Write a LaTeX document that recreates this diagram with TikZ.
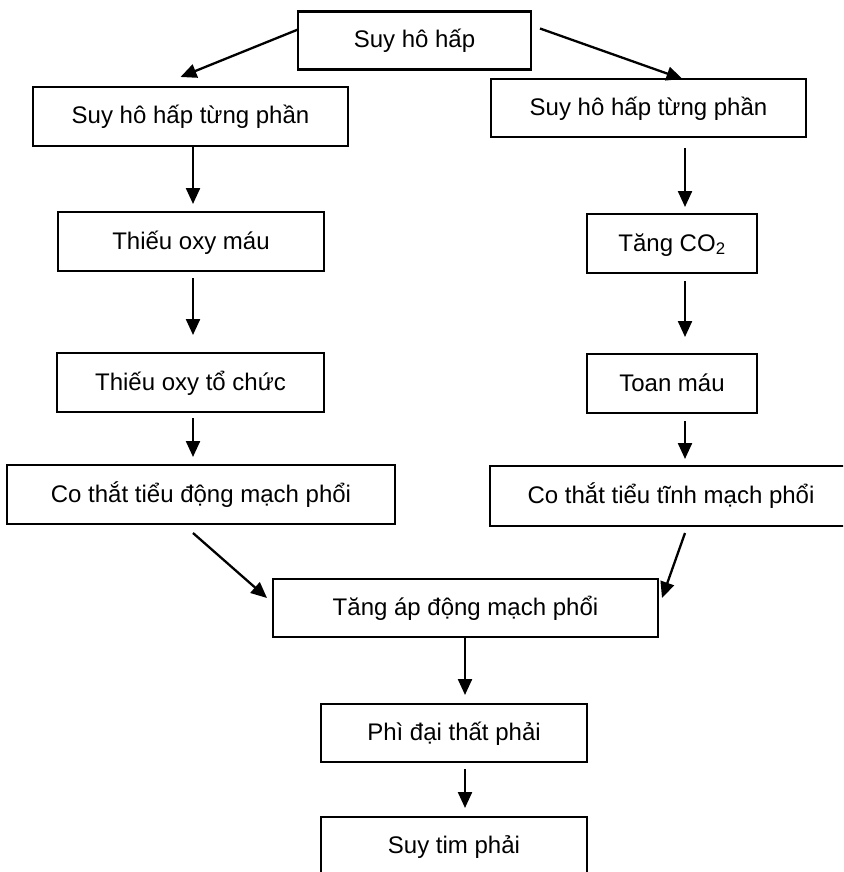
\documentclass[tikz,border=0pt]{standalone}
\usepackage{fontspec}
\setmainfont{Liberation Sans}
\usetikzlibrary{arrows.meta}

\begin{document}
\begin{tikzpicture}[x=1pt,y=-1pt,font=\fontsize{24}{28}\selectfont,
  box/.style={draw,line width=2.8pt,inner sep=0pt,outer sep=0pt,
    text height=20pt,text depth=5pt,minimum height=59pt},
  arr/.style={-{Triangle[length=16pt,width=14pt]},line width=2.3pt}]
  \useasboundingbox (0,0) rectangle (843,872);
  \clip (0,0) rectangle (843,872);
  % nut goc
  \node[box,minimum width=233pt,minimum height=58pt] (hh) at (414.5,40.5) {Suy hô hấp};
  % nhanh trai
  \node[box,minimum width=315pt] (l1) at (190.5,116.5) {Suy hô hấp từng phần};
  \node[box,minimum width=266pt] (l2) at (191,241.5) {Thiếu oxy máu};
  \node[box,minimum width=267pt] (l3) at (190.5,382.5) {Thiếu oxy tổ chức};
  \node[box,minimum width=388pt] (l4) at (201,494.5) {Co thắt tiểu động mạch phổi};
  % nhanh phai
  \node[box,minimum width=315pt,minimum height=58pt] (r1) at (648.5,108) {Suy hô hấp từng phần};
  \node[box,minimum width=170pt] (r2) at (672,243.5) {Tăng CO\textsubscript{2}};
  \node[box,minimum width=170pt] (r3) at (672,383.5) {Toan máu};
  \node[box,minimum width=362pt,minimum height=60pt] (r4) at (671,496) {Co thắt tiểu tĩnh mạch phổi};
  % hop chung
  \node[box,minimum width=385pt,minimum height=58pt] (ta) at (465.5,608) {Tăng áp động mạch phổi};
  \node[box,minimum width=266pt,minimum height=58pt] (pd) at (454,733) {Phì đại thất phải};
  \node[box,minimum width=266pt,minimum height=58pt] (st) at (454,846) {Suy tim phải};

  \draw[arr] ([yshift=11pt]hh.west) -- ([xshift=-10pt,yshift=10pt]l1.north);
  \draw[arr] ([xshift=9pt,yshift=12pt]hh.east) -- ([xshift=34pt]r1.north);

  \draw[arr] ([xshift=2.5pt]l1.south) -- ([xshift=2pt,yshift=8pt]l2.north);
  \draw[arr] ([xshift=2pt,yshift=-7pt]l2.south) -- ([xshift=2.5pt,yshift=18pt]l3.north);
  \draw[arr] ([xshift=2.5pt,yshift=-6pt]l3.south) -- ([xshift=-8pt,yshift=8pt]l4.north);

  \draw[arr] ([xshift=36.5pt,yshift=-11pt]r1.south) -- ([xshift=13pt,yshift=7pt]r2.north);
  \draw[arr] ([xshift=13pt,yshift=-8pt]r2.south) -- ([xshift=13pt,yshift=17pt]r3.north);
  \draw[arr] ([xshift=13pt,yshift=-8pt]r3.south) -- ([xshift=14pt,yshift=7pt]r4.north);

  \draw[arr] ([xshift=-8pt,yshift=-9pt]l4.south) -- ([xshift=-6pt,yshift=10pt]ta.west);
  \draw[arr] ([xshift=14pt,yshift=-7pt]r4.south) -- ([xshift=4pt,yshift=10pt]ta.east);
  \draw[arr] ([xshift=-0.5pt]ta.south) -- ([xshift=11pt,yshift=9pt]pd.north);
  \draw[arr] ([xshift=11pt,yshift=-7pt]pd.south) -- ([xshift=11pt,yshift=9pt]st.north);
\end{tikzpicture}
\end{document}
